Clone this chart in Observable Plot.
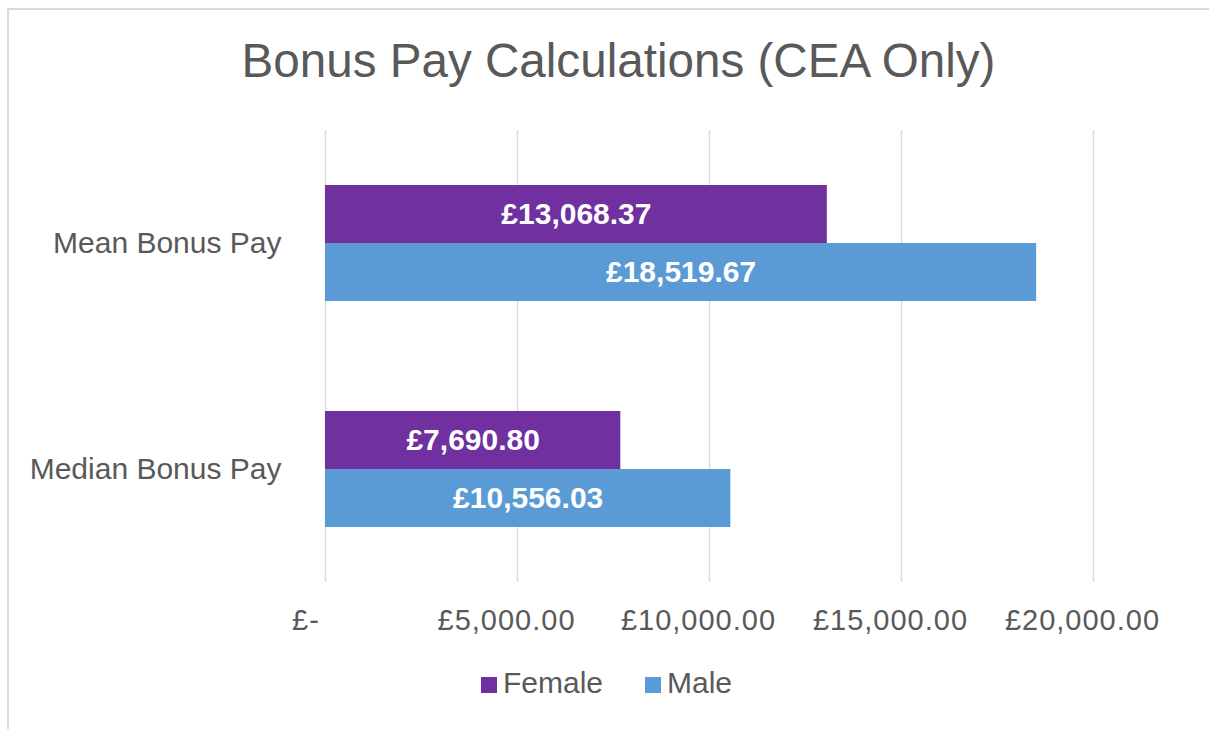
<!DOCTYPE html>
<html>
<head>
<meta charset="utf-8">
<script src="https://cdn.jsdelivr.net/npm/d3@7"></script>
<script src="https://cdn.jsdelivr.net/npm/@observablehq/plot@0.6"></script>
<style>
  html, body { margin: 0; padding: 0; background: #ffffff; }
  body { width: 1209px; height: 729px; overflow: hidden; position: relative; font-family: "Liberation Sans", Arial, sans-serif; }
  #frame { position: absolute; left: 7px; top: 8px; width: 1240px; height: 760px; border: 2px solid #d9d9d9; box-sizing: border-box; }
  #title { position: absolute; left: 0; top: 36.5px; width: 1237px; text-align: center; font-size: 47.6px; line-height: 48px; color: #595959; white-space: nowrap; }
  #chart { position: absolute; left: 0; top: 100px; }
  #chart g[aria-label="x-axis tick label"] text { letter-spacing: 1px; }
  .legend-item { position: absolute; top: 667.6px; font-size: 30px; line-height: 30px; color: #595959; white-space: nowrap; }
  .legend-swatch { position: absolute; top: 677px; width: 16px; height: 16px; }
</style>
</head>
<body>
<div id="frame"></div>
<div id="title">Bonus Pay Calculations (CEA Only)</div>
<div id="chart"></div>
<div id="legend"></div>
<script>
const categories = ["Mean Bonus Pay", "Median Bonus Pay"];
const series = ["Female", "Male"];
const femaleValues = [13068.37, 7690.80];
const maleValues = [18519.67, 10556.03];
const xTicks = [0, 5000, 10000, 15000, 20000];
const colors = ["#7030A0", "#5B9BD5"];

const seriesValues = [femaleValues, maleValues];
const data = categories.flatMap((c, i) =>
  series.map((s, j) => ({category: c, gender: s, value: seriesValues[j][i]}))
);
const money = d3.format(",.2f");
const fmt = v => "£" + money(v);
const tickFmt = v => v === 0 ? "£-\u2007" : fmt(v);

const chart = Plot.plot({
  width: 1209,
  height: 542,
  marginTop: 30,
  marginBottom: 60,
  marginLeft: 325,
  marginRight: 116,
  style: {fontFamily: "'Liberation Sans', Arial, sans-serif", background: "transparent", overflow: "visible"},
  x: {domain: [0, 20000]},
  y: {domain: series, axis: null, paddingInner: 0, paddingOuter: 0.93},
  fy: {domain: categories, padding: 0},
  color: {domain: series, range: colors},
  marks: [
    Plot.gridX({ticks: xTicks, stroke: "#d9d9d9", strokeOpacity: 1, strokeWidth: 1.5}),
    Plot.barX(data, {x: "value", y: "gender", fy: "category", fill: "gender"}),
    Plot.text(data, {x: d => d.value / 2, y: "gender", fy: "category", text: d => fmt(d.value), fill: "white", fontWeight: "bold", fontSize: 30}),
    Plot.axisX({ticks: xTicks, tickFormat: tickFmt, tickSize: 0, tickPadding: 27, fontSize: 29, fill: "#595959", dx: -11, label: null}),
    Plot.axisFy({anchor: "left", tickSize: 0, tickPadding: 44, fontSize: 30, fill: "#595959", label: null})
  ]
});
document.getElementById("chart").appendChild(chart);

// legend
const legend = document.getElementById("legend");
const swatchX = [481, 645];
const textX = [503, 667];
series.forEach((s, i) => {
  const sw = document.createElement("div");
  sw.className = "legend-swatch";
  sw.style.left = swatchX[i] + "px";
  sw.style.background = colors[i];
  legend.appendChild(sw);
  const t = document.createElement("div");
  t.className = "legend-item";
  t.style.left = textX[i] + "px";
  t.textContent = s;
  legend.appendChild(t);
});
</script>
</body>
</html>
